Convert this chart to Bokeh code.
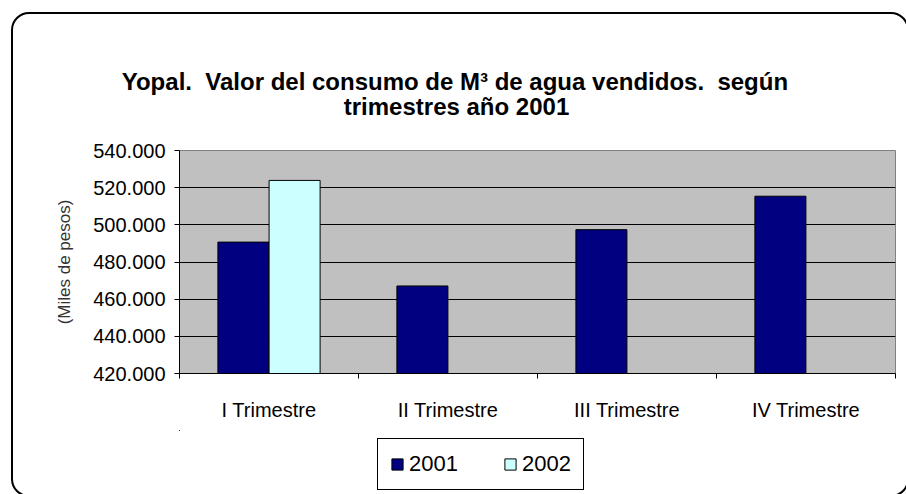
import numpy as np
from bokeh.plotting import figure
from bokeh.layouts import column
from bokeh.models import (Range1d, FixedTicker, CustomJSTickFormatter, Legend, LegendItem,
                          Title, ColumnDataSource, InlineStyleSheet)
from bokeh.transform import dodge
from bokeh.embed import file_html
from bokeh.resources import INLINE

# ---- data ----
categories = ["I Trimestre", "II Trimestre", "III Trimestre", "IV Trimestre"]
series_names = ["2001", "2002"]
series_colors = ["#000080", "#CCFFFF"]
values_2001 = [490700, 467100, 497400, 515400]
values_2002 = [523900, None, None, None]
y_ticks = [420000, 440000, 460000, 480000, 500000, 520000, 540000]
title_lines = ["Yopal.\u00a0 Valor del consumo de M\u00b3 de agua vendidos.\u00a0 según",
               "trimestres año 2001"]
y_label = "(Miles de pesos)"

W, H1, H2 = 906, 430, 64
FONT = "Liberation Sans"
FR_L, FR_R, FR_T, FR_B = 179, 895, 150, 373

x_pos = [i + 0.5 for i in range(len(categories))]
src = ColumnDataSource(dict(
    x=x_pos,
    v2001=[np.nan if v is None else v for v in values_2001],
    v2002=[np.nan if v is None else v for v in values_2002],
))

p = figure(width=W, height=H1, output_backend="svg", toolbar_location=None,
           x_range=Range1d(0, len(categories)), y_range=Range1d(y_ticks[0], y_ticks[-1]),
           min_border_left=FR_L, min_border_right=W - FR_R,
           min_border_top=FR_T, min_border_bottom=H1 - FR_B)
p.background_fill_color = "#C0C0C0"
p.border_fill_color = "white"
p.outline_line_color = "#808080"
p.outline_line_width = 1

p.vbar(x=dodge("x", -0.143, range=p.x_range), top="v2001", bottom=y_ticks[0], width=0.285,
       source=src, fill_color=series_colors[0], line_color="black", line_width=1)
p.vbar(x=dodge("x", 0.143, range=p.x_range), top="v2002", bottom=y_ticks[0], width=0.285,
       source=src, fill_color=series_colors[1], line_color="black", line_width=1)

# grid
p.xgrid.visible = False
p.ygrid.grid_line_color = "black"
p.ygrid.grid_line_width = 1
p.ygrid.ticker = FixedTicker(ticks=y_ticks)

# y axis
p.yaxis.ticker = FixedTicker(ticks=y_ticks)
p.yaxis.formatter = CustomJSTickFormatter(
    code="return Math.round(tick).toString().replace(/\\B(?=(\\d{3})+(?!\\d))/g, '.');")
p.yaxis.major_tick_out = 5
p.yaxis.major_tick_in = 0
p.yaxis.minor_tick_line_color = None
p.yaxis.axis_line_color = "black"
p.yaxis.major_label_text_font = FONT
p.yaxis.major_label_text_font_size = "20px"
p.yaxis.major_label_text_color = "black"
p.yaxis.major_label_standoff = 9
p.yaxis.axis_label = y_label
p.yaxis.axis_label_text_font = FONT
p.yaxis.axis_label_text_font_size = "17px"
p.yaxis.axis_label_text_font_style = "normal"
p.yaxis.axis_label_text_color = "#333333"
p.yaxis.axis_label_standoff = 16

# x axis
p.xaxis.ticker = FixedTicker(ticks=x_pos, minor_ticks=list(range(len(categories) + 1)))
p.xaxis.major_label_overrides = {x: c for x, c in zip(x_pos, categories)}
p.xaxis.major_tick_line_color = None
p.xaxis.major_tick_out = 0
p.xaxis.major_tick_in = 0
p.xaxis.minor_tick_out = 5
p.xaxis.minor_tick_in = 0
p.xaxis.minor_tick_line_color = "black"
p.xaxis.axis_line_color = "black"
p.xaxis.major_label_text_font = FONT
p.xaxis.major_label_text_font_size = "20px"
p.xaxis.major_label_text_color = "black"
p.xaxis.major_label_standoff = 20

# title: spacer nearest the frame, then line 2, then line 1
TS = 24
em_w = [27.897, 9.393]          # Liberation Sans Bold widths in em
center_x = 456
p.add_layout(Title(text=" ", standoff=2, text_font=FONT, text_font_size=f"{TS}px"), "above")
for i, s in ((1, 0), (0, -9)):
    w = em_w[i] * TS
    p.add_layout(Title(text=title_lines[i], align="left", offset=center_x - w / 2 - FR_L,
                       standoff=s, text_font=FONT, text_font_style="bold",
                       text_font_size=f"{TS}px", text_color="black"), "above")

# legend strip (its frame is aligned with the chart frame by the column layout)
p2 = figure(width=W, height=H2, output_backend="svg", toolbar_location=None,
            x_range=Range1d(5, 6), y_range=Range1d(0, 100000),
            x_axis_location=None, y_axis_location=None, min_border=0,
            min_border_left=0, min_border_right=0, min_border_top=0, min_border_bottom=0)
p2.grid.visible = False
p2.outline_line_color = None
p2.background_fill_color = "white"
p2.border_fill_color = "white"
lr = [p2.vbar(x="x", top=col, bottom=y_ticks[0], width=0.285, source=src, fill_color=c,
              line_color="black", line_width=1)
      for col, c in zip(["v2001", "v2002"], series_colors)]
legend = Legend(items=[LegendItem(label=n, renderers=[r]) for n, r in zip(series_names, lr)],
                orientation="horizontal", location=(377 - FR_L, 4),
                glyph_width=14, glyph_height=14,
                label_text_font=FONT, label_text_font_size="22px", label_text_color="black",
                label_standoff=5, spacing=45, padding=12, margin=0,
                border_line_color="black", border_line_width=1.5, border_line_alpha=1,
                background_fill_color="white", background_fill_alpha=1)
p2.add_layout(legend)

layout = column(p, p2, spacing=0)
layout.stylesheets = [InlineStyleSheet(css="""
:host { position: relative; overflow: hidden; }
:host::after { content: ''; position: absolute; left: 11px; top: 12px;
  width: 898px; height: 485px; border: 2px solid black; border-radius: 18px;
  pointer-events: none; box-sizing: border-box; }
""")]

open("out.html", "w").write(file_html(layout, INLINE))
